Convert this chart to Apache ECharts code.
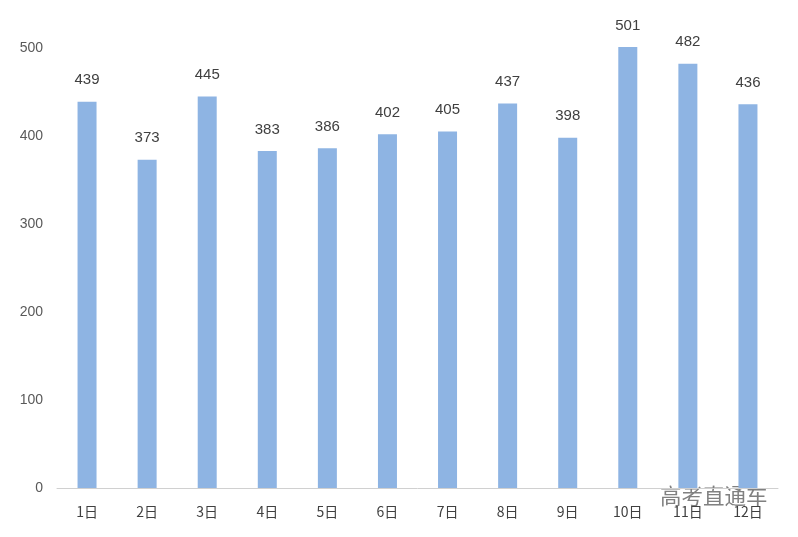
<!DOCTYPE html>
<html><head><meta charset="utf-8">
<script src="https://cdn.jsdelivr.net/npm/echarts@6/dist/echarts.min.js"></script>
<style>html,body{margin:0;padding:0;background:#fff}#c{width:798px;height:537px}</style>
</head><body><div id="c"></div>
<script>
const categories = ['1日','2日','3日','4日','5日','6日','7日','8日','9日','10日','11日','12日'];
const values = [439,373,445,383,386,402,405,437,398,501,482,436];
const yTicks = [0,100,200,300,400,500];
const chart = echarts.init(document.getElementById('c'));
chart.setOption({
  backgroundColor:'#fff',
  animation:false,
  grid:{left:57,right:20,top:48,bottom:49},
  xAxis:{type:'category',data:categories,
    axisLine:{lineStyle:{color:'#d0d0d0',width:1}},
    axisTick:{show:false},
    axisLabel:{color:'#404040',fontSize:14,margin:17,fontFamily:'Noto Sans CJK SC'}},
  yAxis:{type:'value',min:yTicks[0],max:yTicks[yTicks.length-1],interval:100,
    splitLine:{show:false},axisLine:{show:false},axisTick:{show:false},
    axisLabel:{color:'#595959',fontSize:14,margin:14}},
  series:[{type:'bar',data:values,barWidth:19,clip:false,
    itemStyle:{color:'#8eb4e3'},
    label:{show:true,position:'top',distance:14,color:'#404040',fontSize:15}}],
  graphic:[{type:'text',left:660,top:485,style:{text:'高考直通车',fontSize:21.5,fill:'#808080',fontFamily:'Noto Sans CJK SC'}}]
});
</script></body></html>
